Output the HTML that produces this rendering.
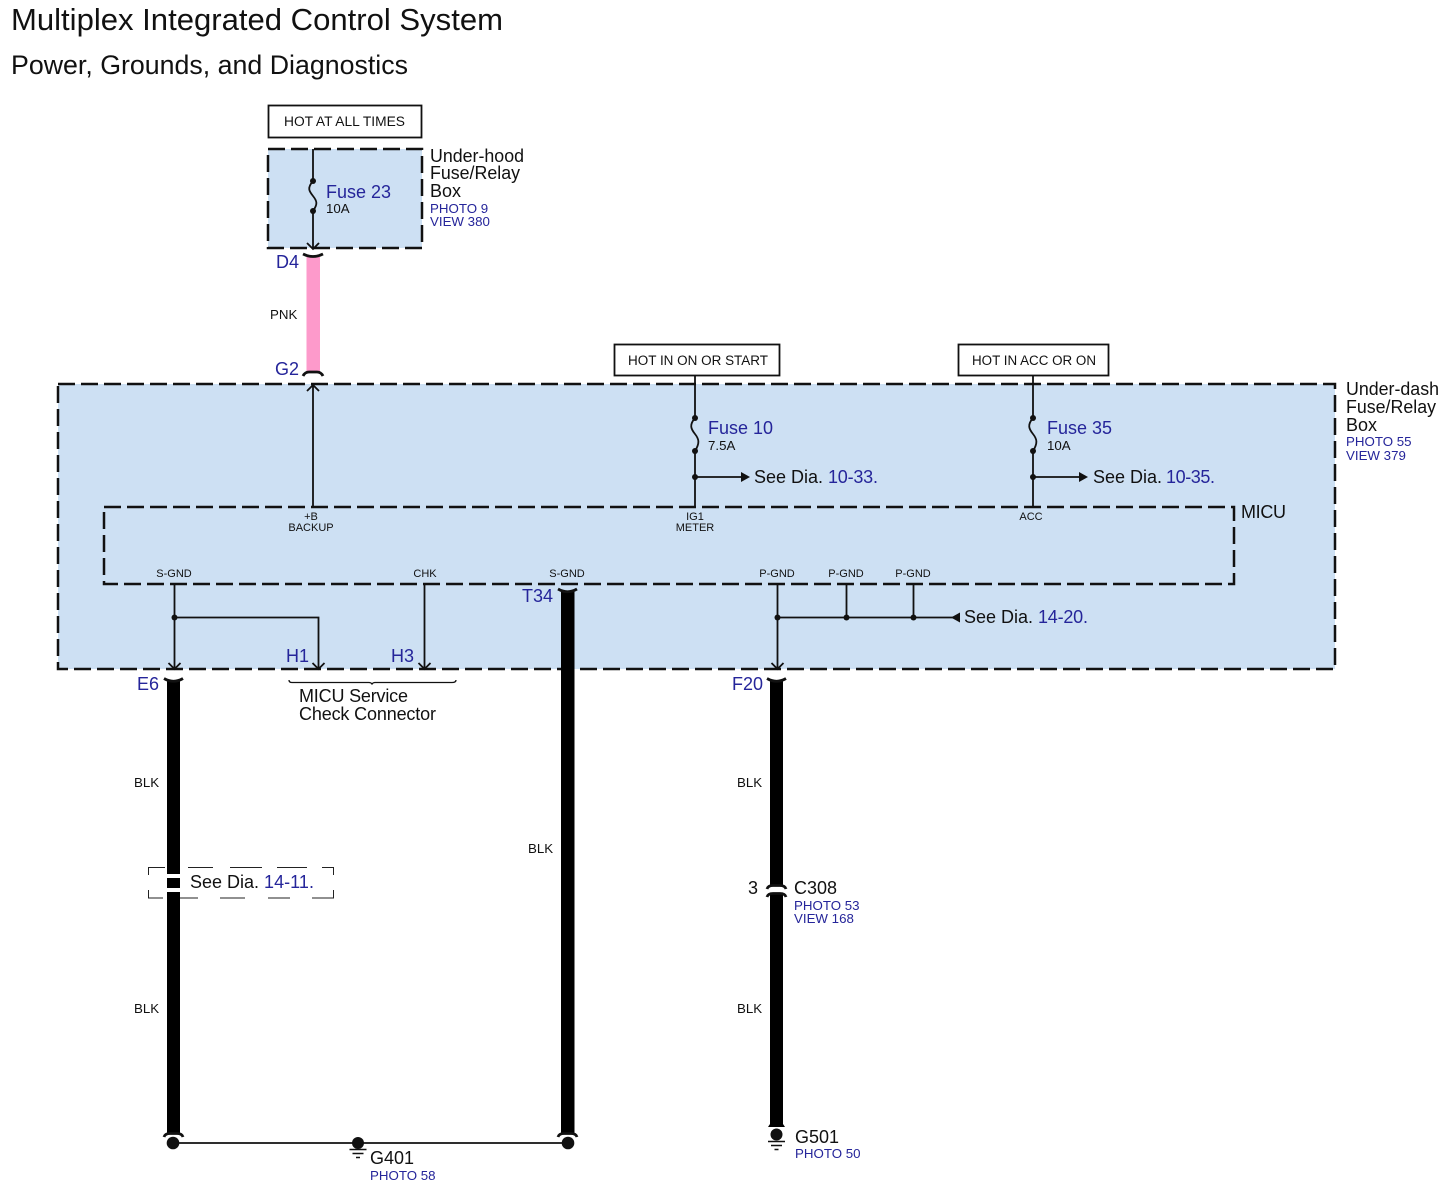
<!DOCTYPE html>
<html><head><meta charset="utf-8"><style>
html,body{margin:0;padding:0;background:#fff}
svg{display:block}
text{font-family:"Liberation Sans",sans-serif;fill:#111}
.b{fill:#25259a}
.s10{font-size:11px}
.s13{font-size:13.300px}
.s18{font-size:18px}
.box{fill:#cde0f3;stroke:#111;stroke-width:2.5;stroke-dasharray:17 6}
.l{fill:none;stroke:#111;stroke-width:1.800}
.cap{fill:none;stroke:#111;stroke-width:2.800}
.d{fill:#111}
</style></head><body>
<svg width="1446" height="1191" viewBox="0 0 1446 1191" xmlns="http://www.w3.org/2000/svg">
<rect width="1446" height="1191" fill="#fff"/>
<text x="11" y="30" font-size="31" textLength="492" lengthAdjust="spacingAndGlyphs">Multiplex Integrated Control System</text>
<text x="11" y="74" font-size="27" textLength="397" lengthAdjust="spacingAndGlyphs">Power, Grounds, and Diagnostics</text>

<!-- top boxes -->
<rect x="268.500" y="105.500" width="153" height="32" fill="#fff" stroke="#111" stroke-width="1.800"/>
<text x="284" y="126" font-size="13.500" textLength="121" lengthAdjust="spacingAndGlyphs">HOT AT ALL TIMES</text>
<rect x="614.500" y="344.500" width="165" height="31" fill="#fff" stroke="#111" stroke-width="1.800"/>
<text x="628" y="365" font-size="13.500" textLength="140" lengthAdjust="spacingAndGlyphs">HOT IN ON OR START</text>
<rect x="958.500" y="344.500" width="150" height="31" fill="#fff" stroke="#111" stroke-width="1.800"/>
<text x="972" y="365" font-size="13.500" textLength="124" lengthAdjust="spacingAndGlyphs">HOT IN ACC OR ON</text>

<!-- under-hood box -->
<rect x="268" y="149" width="154" height="99" class="box"/>
<path class="l" d="M313 149V181M313 211V249M307 243L313 249L319 243"/>
<path class="l" d="M313 181C307 188 309 191 313 196C317 201 318 204 313 211"/>
<circle cx="313" cy="181" r="3" class="d"/><circle cx="313" cy="211" r="3" class="d"/>
<text x="326" y="198" class="s18 b" textLength="65" lengthAdjust="spacingAndGlyphs">Fuse 23</text>
<text x="326" y="213" class="s13">10A</text>
<text x="430" y="162" font-size="18" textLength="94" lengthAdjust="spacingAndGlyphs">Under-hood</text>
<text x="430" y="179" font-size="18" textLength="90" lengthAdjust="spacingAndGlyphs">Fuse/Relay</text>
<text x="430" y="197" font-size="18" textLength="31" lengthAdjust="spacingAndGlyphs">Box</text>
<text x="430" y="213" class="s13 b">PHOTO 9</text>
<text x="430" y="226" class="s13 b">VIEW 380</text>

<!-- pink wire -->
<rect x="306.500" y="257" width="13.500" height="116" fill="#fd9acb"/>
<path class="cap" d="M303 254Q313 259 323 254"/>
<path class="cap" d="M303 376Q305 372 309 372H317Q321 372 323 376"/>
<text x="276" y="268" class="s18 b">D4</text>
<text x="275" y="375" class="s18 b">G2</text>
<text x="270" y="319" class="s13">PNK</text>

<!-- under-dash box -->
<rect x="58" y="384" width="1277" height="285" class="box"/>
<text x="1346" y="395" font-size="18" textLength="93" lengthAdjust="spacingAndGlyphs">Under-dash</text>
<text x="1346" y="413" font-size="18" textLength="90" lengthAdjust="spacingAndGlyphs">Fuse/Relay</text>
<text x="1346" y="431" font-size="18" textLength="31" lengthAdjust="spacingAndGlyphs">Box</text>
<text x="1346" y="446" class="s13 b">PHOTO 55</text>
<text x="1346" y="460" class="s13 b">VIEW 379</text>

<!-- MICU -->
<rect x="104" y="507" width="1130" height="77" class="box"/>
<text x="1241" y="518" font-size="18" textLength="45">MICU</text>

<!-- B+ line -->
<path class="l" d="M313 385V507M307 391L313 385L319 391"/>
<!-- fuse 10 -->
<path class="l" d="M695 376V418M695 451V507M695 477H742"/>
<path class="l" d="M695 418C689 425 691 429 695 434C699 439 700 443 695 451"/>
<circle cx="695" cy="418" r="3" class="d"/><circle cx="695" cy="451" r="3" class="d"/><circle cx="695" cy="477" r="3" class="d"/>
<path class="d" d="M741 472L750 477L741 482Z"/>
<text x="708" y="434" class="s18 b" textLength="65" lengthAdjust="spacingAndGlyphs">Fuse 10</text>
<text x="708" y="450" class="s13">7.5A</text>
<text x="754" y="483" font-size="18" textLength="69">See Dia.</text>
<text x="828" y="483" class="b" font-size="18" textLength="50">10-33.</text>
<!-- fuse 35 -->
<path class="l" d="M1033 376V418M1033 451V507M1033 477H1080"/>
<path class="l" d="M1033 418C1027 425 1029 429 1033 434C1037 439 1038 443 1033 451"/>
<circle cx="1033" cy="418" r="3" class="d"/><circle cx="1033" cy="451" r="3" class="d"/><circle cx="1033" cy="477" r="3" class="d"/>
<path class="d" d="M1079 472L1088 477L1079 482Z"/>
<text x="1047" y="434" class="s18 b" textLength="65" lengthAdjust="spacingAndGlyphs">Fuse 35</text>
<text x="1047" y="450" class="s13">10A</text>
<text x="1093" y="483" font-size="18" textLength="69">See Dia.</text>
<text x="1166" y="483" class="b" font-size="18" textLength="49">10-35.</text>

<!-- pin labels -->
<g text-anchor="middle">
<text x="311" y="520" class="s10">+B</text>
<text x="311" y="531" class="s10">BACKUP</text>
<text x="695" y="520" class="s10">IG1</text>
<text x="695" y="531" class="s10">METER</text>
<text x="1031" y="520" class="s10">ACC</text>
<text x="174" y="577" class="s10">S-GND</text>
<text x="425" y="577" class="s10">CHK</text>
<text x="567" y="577" class="s10">S-GND</text>
<text x="777" y="577" class="s10">P-GND</text>
<text x="846" y="577" class="s10">P-GND</text>
<text x="913" y="577" class="s10">P-GND</text>
</g>

<!-- lower lines -->
<path class="l" d="M174.500 584V669M168.500 663L174.500 669L180.500 663M174.500 617.500H318.500V669M312.500 663L318.500 669L324.500 663"/>
<path class="l" d="M424.500 584V669M418.500 663L424.500 669L430.500 663"/>
<circle cx="174.500" cy="617.500" r="3" class="d"/>
<path class="l" d="M777.500 584V669M771.500 663L777.500 669L783.500 663M777.500 617.500H953M846.500 584V617.500M913.500 584V617.500"/>
<circle cx="777.500" cy="617.500" r="3" class="d"/><circle cx="846.500" cy="617.500" r="3" class="d"/><circle cx="913.500" cy="617.500" r="3" class="d"/>
<path class="d" d="M951 617.500L960 612.500V622.500Z"/>
<text x="964" y="623" font-size="18" textLength="69">See Dia.</text>
<text x="1038" y="623" class="b" font-size="18" textLength="50">14-20.</text>

<text x="286" y="662" class="s18 b">H1</text>
<text x="391" y="662" class="s18 b">H3</text>
<path d="M289 680Q289 682.500 292 682.500H369Q371 682.500 372 684Q373 682.500 375 682.500H452Q456 682.500 456 680" fill="none" stroke="#111" stroke-width="1.300"/>
<text x="299" y="702" font-size="18" textLength="109">MICU Service</text>
<text x="299" y="720" font-size="18" textLength="137">Check Connector</text>

<!-- black wires -->
<rect x="167" y="681" width="13" height="193" fill="#000"/>
<rect x="167" y="878" width="13" height="10" fill="#000"/>
<rect x="167" y="892" width="13" height="242" fill="#000"/>
<rect x="561" y="591" width="13.500" height="543" fill="#000"/>
<rect x="770" y="681" width="13" height="205" fill="#000"/>
<rect x="770" y="894" width="13" height="232" fill="#000"/>

<path class="cap" d="M164 678.500Q173.500 684 183 678.500"/>
<path class="cap" d="M558 589Q567.500 594.500 577 589"/>
<path class="cap" d="M767 678.500Q776.500 684 786 678.500"/>
<path class="cap" d="M767 889Q768 885.500 773 885.500H780Q785 885.500 786 889"/>
<path class="cap" d="M767 897Q768 893.500 773 893.500H780Q785 893.500 786 897"/>
<path class="cap" d="M164 1137Q165 1133.500 170 1133.500H177Q182 1133.500 183 1137"/>
<path class="cap" d="M558 1137Q559 1133.500 564 1133.500H571Q576 1133.500 577 1137"/>
<path d="M768 1127L770 1124H783L785 1127Z" fill="#000"/>

<text x="137" y="690" class="s18 b">E6</text>
<text x="522" y="602" class="s18 b">T34</text>
<text x="732" y="690" class="s18 b">F20</text>

<text x="134" y="787" class="s13">BLK</text>
<text x="134" y="1013" class="s13">BLK</text>
<text x="528" y="853" class="s13">BLK</text>
<text x="737" y="787" class="s13">BLK</text>
<text x="737" y="1013" class="s13">BLK</text>

<!-- see dia dashed -->
<path d="M148.500 875V867.500H165M188 867.500H213M230 867.500H262M277 867.500H307M322 867.500H333.500V875M148.500 890V898H163M180 898H198M220 898H245M268 898H290M312 898H333.500V890" fill="none" stroke="#222" stroke-width="1"/>
<text x="190" y="888" font-size="18" textLength="69">See Dia.</text>
<text x="264" y="888" class="b" font-size="18" textLength="50">14-11.</text>

<!-- C308 -->
<text x="748" y="894" class="s18">3</text>
<text x="794" y="894" class="s18">C308</text>
<text x="794" y="910" class="s13 b">PHOTO 53</text>
<text x="794" y="923" class="s13 b">VIEW 168</text>

<!-- G401 -->
<path class="l" d="M173 1143H568"/>
<circle cx="173" cy="1143" r="6.300" class="d"/>
<circle cx="568" cy="1143" r="6.300" class="d"/>
<circle cx="358" cy="1143" r="6" class="d"/>
<path d="M349.500 1149.500H366.500M352.500 1153.500H363.500M356 1157.500H360" stroke="#111" stroke-width="1.500"/>
<text x="370" y="1164" class="s18">G401</text>
<text x="370" y="1180" class="s13 b">PHOTO 58</text>

<!-- G501 -->
<circle cx="776.500" cy="1134.500" r="6" class="d"/>
<path d="M768 1141.500H785M771 1145.500H782M774.500 1149.500H778.500" stroke="#111" stroke-width="1.500"/>
<text x="795" y="1143" class="s18">G501</text>
<text x="795" y="1158" class="s13 b">PHOTO 50</text>
</svg>
</body></html>
